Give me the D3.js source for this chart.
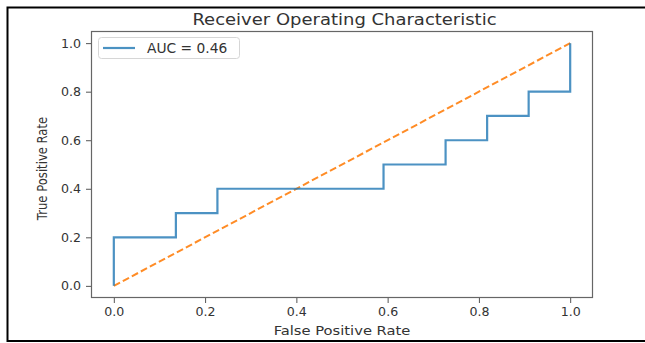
<!DOCTYPE html>
<html>
<head>
<meta charset="utf-8">
<script src="https://cdn.jsdelivr.net/npm/d3@7"></script>
<style>
  html, body { margin: 0; padding: 0; background: #fff; }
  svg { display: block; font-family: "DejaVu Sans", sans-serif; }
</style>
</head>
<body>
<svg id="chart" width="645" height="343"></svg>
<script>
// ROC curve points (false positive rate / true positive rate)
const fpr = [0, 0, 0.136, 0.136, 0.227, 0.227, 0.591, 0.591, 0.727, 0.727, 0.818, 0.818, 0.909, 0.909, 1.0, 1.0];
const tpr = [0, 0.2, 0.2, 0.3, 0.3, 0.4, 0.4, 0.5, 0.5, 0.6, 0.6, 0.7, 0.7, 0.8, 0.8, 1.0];
// chance diagonal
const chanceX = [0, 1];
const chanceY = [0, 1];
const aucValue = 0.46;
const xTicks = [0.0, 0.2, 0.4, 0.6, 0.8, 1.0];
const yTicks = [0.0, 0.2, 0.4, 0.6, 0.8, 1.0];
const titleText = "Receiver Operating Characteristic";
const xLabel = "False Positive Rate";
const yLabel = "True Positive Rate";

const svg = d3.select("#chart");
const box = { left: 91, right: 593, top: 31, bottom: 298 };

const x = d3.scaleLinear().domain([-0.05, 1.05]).range([box.left, box.right]);
const y = d3.scaleLinear().domain([-0.05, 1.05]).range([box.bottom, box.top]);

// outer frame
svg.append("rect")
  .attr("x", 7.5).attr("y", 7.5)
  .attr("width", 660).attr("height", 333.5)
  .attr("fill", "none").attr("stroke", "#000").attr("stroke-width", 2);

const textColor = "#333";

// title (slightly widened lettering)
svg.append("text")
  .attr("transform", `translate(${(box.left + box.right) / 2 + 2.5},24.5) scale(1.2,1)`)
  .attr("text-anchor", "middle")
  .attr("font-size", 15).attr("fill", textColor)
  .text(titleText);

// axes
const fmt = d3.format(".1f");
const xAxis = svg.append("g")
  .attr("transform", `translate(0,${box.bottom})`)
  .call(d3.axisBottom(x).tickValues(xTicks).tickFormat(fmt).tickSize(5).tickPadding(4));
const yAxis = svg.append("g")
  .attr("transform", `translate(${box.left},0)`)
  .call(d3.axisLeft(y).tickValues(yTicks).tickFormat(fmt).tickSize(5).tickPadding(5));

[xAxis, yAxis].forEach(g => {
  g.select(".domain").remove();
  g.selectAll(".tick line").attr("stroke", "#555").attr("stroke-width", 1);
  g.selectAll(".tick text").attr("font-size", 12.6).attr("fill", textColor)
    .attr("font-family", "DejaVu Sans, sans-serif");
});

// plot frame (spines)
svg.append("rect")
  .attr("x", box.left + 0.5).attr("y", box.top + 0.5)
  .attr("width", box.right - box.left - 1).attr("height", box.bottom - box.top - 1)
  .attr("fill", "none").attr("stroke", "#666").attr("stroke-width", 1.2);

// axis labels
svg.append("text")
  .attr("transform", `translate(${(box.left + box.right) / 2},335) scale(1.15,1)`)
  .attr("text-anchor", "middle")
  .attr("font-size", 12.8).attr("fill", textColor)
  .text(xLabel);

svg.append("text")
  .attr("transform", `translate(46.5,168.5) scale(1.15,1) rotate(-90)`)
  .attr("text-anchor", "middle")
  .attr("font-size", 11.6).attr("fill", textColor)
  .text(yLabel);

// lines
const line = d3.line().x(d => x(d[0])).y(d => y(d[1]));

svg.append("path")
  .datum(d3.zip(chanceX, chanceY))
  .attr("d", line)
  .attr("fill", "none").attr("stroke", "#ff7f0e")
  .attr("stroke-width", 2).attr("stroke-dasharray", "7,3.2")
  .attr("opacity", 0.9);

svg.append("path")
  .datum(d3.zip(fpr, tpr))
  .attr("d", line)
  .attr("fill", "none").attr("stroke", "#1f77b4")
  .attr("stroke-width", 2.2).attr("opacity", 0.8);

// legend
const lg = svg.append("g");
lg.append("rect")
  .attr("x", 98.5).attr("y", 37.5).attr("width", 141).attr("height", 21)
  .attr("rx", 3).attr("fill", "#fff").attr("stroke", "#d6d6d6").attr("stroke-width", 1);
lg.append("line")
  .attr("x1", 103).attr("x2", 135).attr("y1", 48).attr("y2", 48)
  .attr("stroke", "#1f77b4").attr("stroke-width", 2.2).attr("opacity", 0.8);
lg.append("text")
  .attr("x", 147).attr("y", 53)
  .attr("font-size", 13.8).attr("fill", textColor)
  .text(`AUC = ${aucValue.toFixed(2)}`);
</script>
</body>
</html>
